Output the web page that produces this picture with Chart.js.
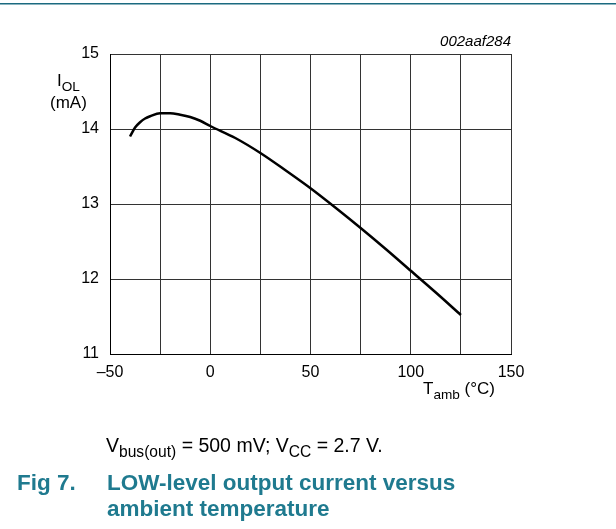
<!DOCTYPE html>
<html>
<head>
<meta charset="utf-8">
<script src="https://cdn.jsdelivr.net/npm/chart.js@4/dist/chart.umd.min.js"></script>
<style>
  html, body { margin: 0; padding: 0; background: #fff; }
  #wrap { width: 616px; height: 529px; position: relative; }
</style>
</head>
<body>
<div id="wrap"><canvas id="myChart"></canvas></div>
<script>
// values
var temps = [-40, -37.5, -35, -32.5, -30, -25, -20, -15, -10, -5, 0, 12.5, 25, 37.5, 50, 62.5, 75, 87.5, 100, 112.5, 125]
var iol = [13.9, 14.02, 14.09, 14.14, 14.17, 14.21, 14.21, 14.19, 14.16, 14.11, 14.04, 13.88, 13.68, 13.45, 13.21, 12.95, 12.68, 12.4, 12.11, 11.82, 11.52]
var xTicks = [-50, -25, 0, 25, 50, 75, 100, 125, 150]
var xLabels = ['\u201350', '', '0', '', '50', '', '100', '', '150']
var yTicks = [11, 12, 13, 14, 15]
var yLabels = ['11', '12', '13', '14', '15']

var FONT = '"Liberation Sans", Arial, sans-serif'
var TEAL = '#1f7a8f'

// draw text runs, some of them subscript
function runs(ctx, x, y, parts, size) {
  parts.forEach(function (p) {
    var fs = p.sub ? size * 0.8 : size
    ctx.font = fs + 'px ' + FONT
    ctx.fillText(p.t, x, y + (p.sub ? size * 0.28 : 0))
    x += ctx.measureText(p.t).width
  })
}

var extraText = {
  id: 'extraText',
  afterDraw: function (chart) {
    var ctx = chart.ctx
    ctx.save()
    // rule at top of page
    ctx.fillStyle = '#1b6a80'
    ctx.fillRect(0, 3, 616, 1.5)

    ctx.fillStyle = '#000'
    ctx.textBaseline = 'alphabetic'
    ctx.textAlign = 'left'
    runs(ctx, 57, 86, [{ t: 'I' }, { t: 'OL', sub: true }], 17)
    runs(ctx, 50, 108, [{ t: '(mA)' }], 17)
    runs(ctx, 423, 394, [{ t: 'T' }, { t: 'amb', sub: true }, { t: ' (\u00b0C)' }], 17)

    ctx.font = 'italic 15px ' + FONT
    ctx.textAlign = 'right'
    ctx.fillText('002aaf284', 511, 46)

    ctx.textAlign = 'left'
    runs(ctx, 106, 452, [
      { t: 'V' }, { t: 'bus(out)', sub: true }, { t: ' = 500 mV; V' },
      { t: 'CC', sub: true }, { t: ' = 2.7 V.' }
    ], 19.5)

    ctx.fillStyle = TEAL
    ctx.font = 'bold 22.5px ' + FONT
    ctx.fillText('Fig 7.', 17, 490)
    ctx.fillText('LOW-level output current versus', 107, 490)
    ctx.fillText('ambient temperature', 107, 516)
    ctx.restore()
  },
}

Chart.register(extraText)

var ctx = document.getElementById('myChart').getContext('2d')
var myChart = new Chart(ctx, {
  type: 'scatter',
  data: {
    datasets: [
      {
        data: temps.map(function (t, i) { return { x: t, y: iol[i] } }),
        showLine: true,
        borderColor: '#000',
        borderWidth: 2.5,
        pointRadius: 0,
        cubicInterpolationMode: 'monotone',
        fill: false,
      },
    ],
  },
  options: {
    animation: false,
    responsive: true,
    maintainAspectRatio: false,
    layout: { padding: { top: 54, right: 105, bottom: 135, left: 0 } },
    plugins: { legend: { display: false }, tooltip: { enabled: false } },
    scales: {
      x: {
        type: 'linear',
        min: -50,
        max: 150,
        afterBuildTicks: function (s) {
          s.ticks = xTicks.map(function (v) { return { value: v } })
        },
        afterFit: function (s) { s.height = 40 },
        grid: { color: '#333', lineWidth: 1, drawTicks: false },
        border: { color: '#000', width: 1 },
        ticks: {
          padding: 9,
          color: '#000',
          font: { family: FONT, size: 16 },
          maxRotation: 0,
          autoSkip: false,
          callback: function (v) { return xLabels[xTicks.indexOf(v)] },
        },
      },
      y: {
        min: 11,
        max: 15,
        afterBuildTicks: function (s) {
          s.ticks = yTicks.map(function (v) { return { value: v } })
        },
        afterFit: function (s) { s.width = 110 },
        grid: { color: '#333', lineWidth: 1, drawTicks: false },
        border: { color: '#000', width: 1 },
        ticks: {
          padding: 11,
          color: '#000',
          font: { family: FONT, size: 16 },
          callback: function (v) { return yLabels[yTicks.indexOf(v)] },
        },
      },
    },
  },
})
</script>
</body>
</html>
